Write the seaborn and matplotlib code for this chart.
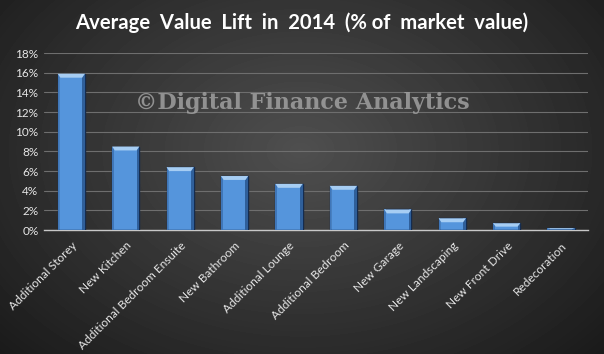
import numpy as np
import pandas as pd
import matplotlib.pyplot as plt
import seaborn as sns

categories = ["Additional Storey", "New Kitchen", "Additional Bedroom Ensuite",
              "New Bathroom", "Additional Lounge", "Additional Bedroom",
              "New Garage", "New Landscaping", "New Front Drive", "Redecoration"]
lift_pct = [15.9, 8.5, 6.4, 5.5, 4.7, 4.5, 2.1, 1.2, 0.7, 0.2]
y_ticks = [0, 2, 4, 6, 8, 10, 12, 14, 16, 18]

df = pd.DataFrame({"category": categories, "lift": lift_pct})

sns.set_style("dark")
plt.rcParams['font.family'] = ['Lato', 'DejaVu Sans']

fig = plt.figure(figsize=(6.04, 3.54), dpi=100)

# radial dark-grey background
bg = fig.add_axes([0, 0, 1, 1], zorder=0)
yy, xx = np.mgrid[0:354, 0:604]
r = np.sqrt(((xx - 300) / 420.0) ** 2 + ((yy - 150) / 300.0) ** 2)
shade = np.clip(0.31 - 0.21 * r, 0.08, 0.31)
bg.imshow(shade, cmap="gray", vmin=0, vmax=1, aspect="auto", interpolation="bilinear")
bg.axis("off")

ax = fig.add_axes([0.073, 0.350, 0.901, 0.500], zorder=1)
ax.patch.set_alpha(0)
sns.barplot(data=df, x="category", y="lift", color="#5595dc", width=0.5,
            edgecolor="#152c4f", linewidth=1.0, saturation=1, ax=ax, zorder=3)

# bevel effect: darker sides, lighter top
for p in ax.patches:
    h = p.get_height()
    x0, w = p.get_x(), p.get_width()
    bevel = min(0.4, h * 0.5)
    side = 0.05
    ax.add_patch(plt.Rectangle((x0 + w - side, 0), side, h, color="#2f5f9a", zorder=4, lw=0))
    ax.add_patch(plt.Rectangle((x0, 0), side * 0.6, h, color="#3f76b8", zorder=4, lw=0))
    ax.add_patch(plt.Polygon([(x0, h), (x0 + w, h), (x0 + w - side, h - bevel),
                              (x0 + side, h - bevel)], color="#a6cdf3", zorder=5, lw=0))

ax.set_ylim(0, 18)
ax.set_xlim(-0.5, len(categories) - 0.5)
ax.set_yticks(y_ticks)
ax.set_yticklabels([f"{t}%" for t in y_ticks], color="#e6e6e6", fontsize=8.5)
ax.set_xticks(range(len(categories)))
ax.set_xticklabels(categories, rotation=45, ha="right", rotation_mode="anchor",
                   color="#e6e6e6", fontsize=8.6)
ax.tick_params(axis="y", length=0, pad=4)
ax.tick_params(axis="x", length=0, pad=7)
ax.set_xlabel("")
ax.set_ylabel("")
ax.grid(axis="y", color="#6e6e6e", linewidth=0.8, zorder=0)
ax.grid(axis="x", visible=False)
for s in ["top", "right", "left"]:
    ax.spines[s].set_visible(False)
ax.spines["bottom"].set_color("#c8c8c8")
ax.spines["bottom"].set_linewidth(1.0)

fig.text(0.5, 0.935, "Average  Value  Lift  in  2014  (% of  market  value)",
         ha="center", va="center", color="white", fontsize=14.6, fontweight="bold")
fig.text(0.50, 0.71, "©Digital Finance Analytics", ha="center", va="center",
         color="#a0a0a0", fontsize=16, fontweight="bold", family="DejaVu Serif",
         alpha=0.85, zorder=2)

fig.savefig("out.png", dpi=100)
